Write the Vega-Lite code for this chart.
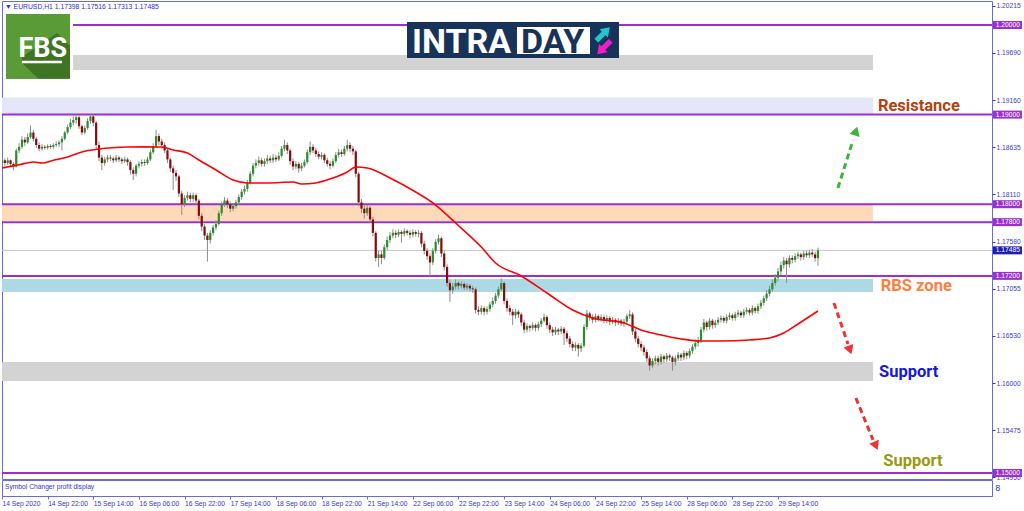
{
"$schema":"https://vega.github.io/schema/vega-lite/v6.json",
"padding":{"left":1,"top":0,"right":0,"bottom":0},
"background":"white",
"bounds":"flush",
"spacing":1,
"config":{"view":{"stroke":"#6B6BD6","strokeWidth":1},"text":{"font":"Liberation Sans"}},
"datasets":{
"one":[{"n":1}],
"zones":[{"zone":"top","a":24.9,"b":305.3,"lo":1.19498,"hi":1.19665},{"zone":"lav","a":0,"b":305.3,"lo":1.19007,"hi":1.1919},{"zone":"peach","a":0,"b":305.3,"lo":1.17812,"hi":1.17991},{"zone":"blue","a":0,"b":305.3,"lo":1.1702,"hi":1.17165},{"zone":"sup","a":0,"b":305.3,"lo":1.16027,"hi":1.16239}],
"levels":[{"p":1.2,"a":24.9},{"p":1.19,"a":0},{"p":1.18,"a":0},{"p":1.178,"a":0},{"p":1.172,"a":0},{"p":1.15,"a":0}],
"cur":[{"p":1.17485}],
"tags":[{"p":1.2,"k":"lvl"},{"p":1.19,"k":"lvl"},{"p":1.18,"k":"lvl"},{"p":1.178,"k":"lvl"},{"p":1.172,"k":"lvl"},{"p":1.15,"k":"lvl"},{"p":1.17485,"k":"cur"}],
"ma":[{"i":0,"v":1.18404},{"i":6,"v":1.1844},{"i":11,"v":1.18471},{"i":14,"v":1.1846},{"i":18,"v":1.1849},{"i":23,"v":1.18527},{"i":28,"v":1.18583},{"i":34,"v":1.18616},{"i":44,"v":1.18638},{"i":50,"v":1.1864},{"i":56,"v":1.18638},{"i":60,"v":1.18605},{"i":65,"v":1.18571},{"i":69,"v":1.18493},{"i":75,"v":1.18382},{"i":81,"v":1.1827},{"i":86,"v":1.18237},{"i":93,"v":1.18237},{"i":102,"v":1.18248},{"i":105,"v":1.18226},{"i":110,"v":1.18237},{"i":116,"v":1.18293},{"i":121,"v":1.1836},{"i":124,"v":1.18415},{"i":128,"v":1.18404},{"i":136,"v":1.18293},{"i":145,"v":1.18136},{"i":152,"v":1.17991},{"i":159,"v":1.1779},{"i":168,"v":1.17522},{"i":173,"v":1.17344},{"i":182,"v":1.17199},{"i":191,"v":1.17009},{"i":200,"v":1.16819},{"i":207,"v":1.1673},{"i":218,"v":1.16674},{"i":224,"v":1.16596},{"i":231,"v":1.1654},{"i":238,"v":1.16496},{"i":245,"v":1.16473},{"i":252,"v":1.16473},{"i":262,"v":1.16485},{"i":269,"v":1.16507},{"i":274,"v":1.16563},{"i":279,"v":1.16663},{"i":286,"v":1.16808}],
"arrows":[{"id":"g","dir":"up","i":293.0,"p":1.18181,"o":0},{"id":"g","dir":"up","i":298.3,"p":1.18717,"o":1},{"id":"r1","dir":"down","i":291.6,"p":1.16898,"o":0},{"id":"r1","dir":"down","i":296.5,"p":1.1644,"o":1},{"id":"r2","dir":"down","i":299.3,"p":1.15837,"o":0},{"id":"r2","dir":"down","i":305.3,"p":1.15369,"o":1}],
"heads":[{"dir":"up","i":299.3,"p":1.18817,"ang":17},{"dir":"down","i":297.2,"p":1.16373,"ang":161},{"dir":"down","i":306.3,"p":1.15302,"ang":157}],
"notes":[{"t":"Resistance","k":"res","i":307.0,"p":1.1904},{"t":"RBS zone","k":"rbs","i":308.0,"p":1.17026},{"t":"Support","k":"sup","i":307.4,"p":1.16072},{"t":"Support","k":"sup2","i":308.9,"p":1.15078}],
"icon":[{"k":"up","i":210.66,"p":1.199,"ang":45},{"k":"down","i":211.0,"p":1.19749,"ang":225}],
"candles":[
{"i":0,"o":1.1846,"h":1.1852,"l":1.1843,"c":1.1849},
{"i":1,"o":1.1849,"h":1.1851,"l":1.1843,"c":1.1846},
{"i":2,"o":1.1846,"h":1.1852,"l":1.1844,"c":1.1849},
{"i":3,"o":1.1849,"h":1.185,"l":1.1842,"c":1.1845},
{"i":4,"o":1.1845,"h":1.1847,"l":1.1838,"c":1.1842},
{"i":5,"o":1.1842,"h":1.1862,"l":1.1841,"c":1.186},
{"i":6,"o":1.186,"h":1.1868,"l":1.1857,"c":1.1864},
{"i":7,"o":1.1864,"h":1.1876,"l":1.1862,"c":1.1872},
{"i":8,"o":1.1872,"h":1.1875,"l":1.1865,"c":1.1869},
{"i":9,"o":1.1869,"h":1.1879,"l":1.1867,"c":1.1875},
{"i":10,"o":1.1875,"h":1.1888,"l":1.1873,"c":1.188},
{"i":11,"o":1.188,"h":1.1883,"l":1.187,"c":1.1873},
{"i":12,"o":1.1873,"h":1.1875,"l":1.1863,"c":1.1866},
{"i":13,"o":1.1866,"h":1.1869,"l":1.1859,"c":1.1862},
{"i":14,"o":1.1862,"h":1.1867,"l":1.186,"c":1.1864},
{"i":15,"o":1.1864,"h":1.1866,"l":1.1861,"c":1.1863},
{"i":16,"o":1.1863,"h":1.1867,"l":1.1861,"c":1.1865},
{"i":17,"o":1.1865,"h":1.1867,"l":1.1862,"c":1.1864},
{"i":18,"o":1.1864,"h":1.1868,"l":1.1862,"c":1.1866},
{"i":19,"o":1.1866,"h":1.187,"l":1.1864,"c":1.1867},
{"i":20,"o":1.1867,"h":1.1871,"l":1.1864,"c":1.1869},
{"i":21,"o":1.1869,"h":1.1876,"l":1.186,"c":1.1873},
{"i":22,"o":1.1873,"h":1.1882,"l":1.1871,"c":1.188},
{"i":23,"o":1.188,"h":1.1889,"l":1.1878,"c":1.1886},
{"i":24,"o":1.1886,"h":1.1895,"l":1.1884,"c":1.1891},
{"i":25,"o":1.1891,"h":1.1898,"l":1.1888,"c":1.1894},
{"i":26,"o":1.1894,"h":1.1901,"l":1.189,"c":1.1897},
{"i":27,"o":1.1897,"h":1.1899,"l":1.1884,"c":1.1887},
{"i":28,"o":1.1887,"h":1.1889,"l":1.1877,"c":1.188},
{"i":29,"o":1.188,"h":1.1888,"l":1.1878,"c":1.1885},
{"i":30,"o":1.1885,"h":1.1896,"l":1.1883,"c":1.1893},
{"i":31,"o":1.1893,"h":1.1901,"l":1.189,"c":1.1898},
{"i":32,"o":1.1898,"h":1.19,"l":1.1887,"c":1.1891},
{"i":33,"o":1.1891,"h":1.1893,"l":1.1862,"c":1.1866},
{"i":34,"o":1.1866,"h":1.187,"l":1.1848,"c":1.1852},
{"i":35,"o":1.1852,"h":1.1855,"l":1.1838,"c":1.1846},
{"i":36,"o":1.1846,"h":1.1853,"l":1.1843,"c":1.185},
{"i":37,"o":1.185,"h":1.1855,"l":1.1847,"c":1.1852},
{"i":38,"o":1.1852,"h":1.1855,"l":1.1848,"c":1.1851},
{"i":39,"o":1.1851,"h":1.1853,"l":1.1846,"c":1.1849},
{"i":40,"o":1.1849,"h":1.1855,"l":1.1847,"c":1.1852},
{"i":41,"o":1.1852,"h":1.1854,"l":1.1847,"c":1.185},
{"i":42,"o":1.185,"h":1.1852,"l":1.1845,"c":1.1848},
{"i":43,"o":1.1848,"h":1.1853,"l":1.1846,"c":1.185},
{"i":44,"o":1.185,"h":1.1852,"l":1.1843,"c":1.1847},
{"i":45,"o":1.1847,"h":1.1849,"l":1.1833,"c":1.1838},
{"i":46,"o":1.1838,"h":1.1841,"l":1.1827,"c":1.1834},
{"i":47,"o":1.1834,"h":1.1845,"l":1.1831,"c":1.1843},
{"i":48,"o":1.1843,"h":1.1848,"l":1.184,"c":1.1845},
{"i":49,"o":1.1845,"h":1.185,"l":1.1842,"c":1.1847},
{"i":50,"o":1.1847,"h":1.185,"l":1.1843,"c":1.1846},
{"i":51,"o":1.1846,"h":1.1853,"l":1.1844,"c":1.185},
{"i":52,"o":1.185,"h":1.1861,"l":1.1848,"c":1.1858},
{"i":53,"o":1.1858,"h":1.1868,"l":1.1856,"c":1.1865},
{"i":54,"o":1.1865,"h":1.1883,"l":1.1863,"c":1.1876},
{"i":55,"o":1.1876,"h":1.1879,"l":1.1866,"c":1.187},
{"i":56,"o":1.187,"h":1.1873,"l":1.1862,"c":1.1866},
{"i":57,"o":1.1866,"h":1.1869,"l":1.1857,"c":1.186},
{"i":58,"o":1.186,"h":1.1862,"l":1.1846,"c":1.185},
{"i":59,"o":1.185,"h":1.1852,"l":1.1836,"c":1.184},
{"i":60,"o":1.184,"h":1.1843,"l":1.1816,"c":1.1835},
{"i":61,"o":1.1835,"h":1.1838,"l":1.1826,"c":1.1831},
{"i":62,"o":1.1831,"h":1.1833,"l":1.1808,"c":1.1812},
{"i":63,"o":1.1812,"h":1.1815,"l":1.1788,"c":1.18},
{"i":64,"o":1.18,"h":1.181,"l":1.1797,"c":1.1807},
{"i":65,"o":1.1807,"h":1.1814,"l":1.1804,"c":1.181},
{"i":66,"o":1.181,"h":1.1813,"l":1.1802,"c":1.1806},
{"i":67,"o":1.1806,"h":1.1813,"l":1.1803,"c":1.181},
{"i":68,"o":1.181,"h":1.1812,"l":1.18,"c":1.1804},
{"i":69,"o":1.1804,"h":1.1806,"l":1.1783,"c":1.1787},
{"i":70,"o":1.1787,"h":1.179,"l":1.177,"c":1.1775},
{"i":71,"o":1.1775,"h":1.1778,"l":1.176,"c":1.1765},
{"i":72,"o":1.1765,"h":1.1768,"l":1.1736,"c":1.176},
{"i":73,"o":1.176,"h":1.1771,"l":1.1756,"c":1.1768},
{"i":74,"o":1.1768,"h":1.1777,"l":1.1765,"c":1.1774},
{"i":75,"o":1.1774,"h":1.1782,"l":1.1771,"c":1.1778},
{"i":76,"o":1.1778,"h":1.1793,"l":1.1776,"c":1.179},
{"i":77,"o":1.179,"h":1.1803,"l":1.1787,"c":1.18},
{"i":78,"o":1.18,"h":1.1808,"l":1.1797,"c":1.1804},
{"i":79,"o":1.1804,"h":1.1807,"l":1.1796,"c":1.18},
{"i":80,"o":1.18,"h":1.1803,"l":1.1791,"c":1.1795},
{"i":81,"o":1.1795,"h":1.1801,"l":1.1792,"c":1.1798},
{"i":82,"o":1.1798,"h":1.1805,"l":1.1795,"c":1.1802},
{"i":83,"o":1.1802,"h":1.1811,"l":1.1799,"c":1.1808},
{"i":84,"o":1.1808,"h":1.1817,"l":1.1805,"c":1.1814},
{"i":85,"o":1.1814,"h":1.1821,"l":1.1811,"c":1.1817},
{"i":86,"o":1.1817,"h":1.1827,"l":1.1814,"c":1.1824},
{"i":87,"o":1.1824,"h":1.1837,"l":1.1822,"c":1.1834},
{"i":88,"o":1.1834,"h":1.1846,"l":1.1831,"c":1.1843},
{"i":89,"o":1.1843,"h":1.185,"l":1.184,"c":1.1846},
{"i":90,"o":1.1846,"h":1.1853,"l":1.1843,"c":1.1849},
{"i":91,"o":1.1849,"h":1.1852,"l":1.1842,"c":1.1845},
{"i":92,"o":1.1845,"h":1.1851,"l":1.1842,"c":1.1848},
{"i":93,"o":1.1848,"h":1.1855,"l":1.1845,"c":1.1851},
{"i":94,"o":1.1851,"h":1.1854,"l":1.1846,"c":1.1849},
{"i":95,"o":1.1849,"h":1.1856,"l":1.1846,"c":1.1852},
{"i":96,"o":1.1852,"h":1.1855,"l":1.1847,"c":1.185},
{"i":97,"o":1.185,"h":1.1858,"l":1.1848,"c":1.1854},
{"i":98,"o":1.1854,"h":1.1865,"l":1.1852,"c":1.1862},
{"i":99,"o":1.1862,"h":1.1872,"l":1.1859,"c":1.1866},
{"i":100,"o":1.1866,"h":1.1869,"l":1.1856,"c":1.186},
{"i":101,"o":1.186,"h":1.1862,"l":1.1844,"c":1.1848},
{"i":102,"o":1.1848,"h":1.1851,"l":1.1838,"c":1.1842},
{"i":103,"o":1.1842,"h":1.1848,"l":1.1839,"c":1.1845},
{"i":104,"o":1.1845,"h":1.1847,"l":1.1835,"c":1.184},
{"i":105,"o":1.184,"h":1.1846,"l":1.1837,"c":1.1843},
{"i":106,"o":1.1843,"h":1.185,"l":1.1841,"c":1.1847},
{"i":107,"o":1.1847,"h":1.1861,"l":1.1845,"c":1.1858},
{"i":108,"o":1.1858,"h":1.187,"l":1.1855,"c":1.1864},
{"i":109,"o":1.1864,"h":1.1867,"l":1.1857,"c":1.186},
{"i":110,"o":1.186,"h":1.1863,"l":1.1853,"c":1.1856},
{"i":111,"o":1.1856,"h":1.1859,"l":1.185,"c":1.1853},
{"i":112,"o":1.1853,"h":1.1858,"l":1.185,"c":1.1855},
{"i":113,"o":1.1855,"h":1.1857,"l":1.1846,"c":1.1849},
{"i":114,"o":1.1849,"h":1.1852,"l":1.1842,"c":1.1845},
{"i":115,"o":1.1845,"h":1.1848,"l":1.1839,"c":1.1843},
{"i":116,"o":1.1843,"h":1.1851,"l":1.1841,"c":1.1848},
{"i":117,"o":1.1848,"h":1.1858,"l":1.1846,"c":1.1855},
{"i":118,"o":1.1855,"h":1.1862,"l":1.1852,"c":1.1858},
{"i":119,"o":1.1858,"h":1.1861,"l":1.1853,"c":1.1856},
{"i":120,"o":1.1856,"h":1.1865,"l":1.1854,"c":1.1862},
{"i":121,"o":1.1862,"h":1.1872,"l":1.1859,"c":1.1866},
{"i":122,"o":1.1866,"h":1.1869,"l":1.1858,"c":1.1862},
{"i":123,"o":1.1862,"h":1.1865,"l":1.1855,"c":1.1859},
{"i":124,"o":1.1859,"h":1.1861,"l":1.183,"c":1.1834},
{"i":125,"o":1.1834,"h":1.1836,"l":1.1798,"c":1.1802},
{"i":126,"o":1.1802,"h":1.1806,"l":1.179,"c":1.1795},
{"i":127,"o":1.1795,"h":1.1799,"l":1.1784,"c":1.179},
{"i":128,"o":1.179,"h":1.1799,"l":1.1787,"c":1.1796},
{"i":129,"o":1.1796,"h":1.1798,"l":1.1779,"c":1.1783},
{"i":130,"o":1.1783,"h":1.1786,"l":1.1764,"c":1.1768},
{"i":131,"o":1.1768,"h":1.177,"l":1.1736,"c":1.174},
{"i":132,"o":1.174,"h":1.1748,"l":1.173,"c":1.1744},
{"i":133,"o":1.1744,"h":1.1748,"l":1.1733,"c":1.174},
{"i":134,"o":1.174,"h":1.1755,"l":1.1738,"c":1.1752},
{"i":135,"o":1.1752,"h":1.1764,"l":1.1749,"c":1.176},
{"i":136,"o":1.176,"h":1.1769,"l":1.1757,"c":1.1765},
{"i":137,"o":1.1765,"h":1.1772,"l":1.1762,"c":1.1768},
{"i":138,"o":1.1768,"h":1.1771,"l":1.1762,"c":1.1766},
{"i":139,"o":1.1766,"h":1.1772,"l":1.1763,"c":1.1769},
{"i":140,"o":1.1769,"h":1.1771,"l":1.1757,"c":1.1767},
{"i":141,"o":1.1767,"h":1.1773,"l":1.1764,"c":1.177},
{"i":142,"o":1.177,"h":1.1772,"l":1.1765,"c":1.1768},
{"i":143,"o":1.1768,"h":1.1771,"l":1.1762,"c":1.1766},
{"i":144,"o":1.1766,"h":1.1772,"l":1.1763,"c":1.1769},
{"i":145,"o":1.1769,"h":1.1771,"l":1.1764,"c":1.1767},
{"i":146,"o":1.1767,"h":1.1771,"l":1.1763,"c":1.1768},
{"i":147,"o":1.1768,"h":1.177,"l":1.1752,"c":1.1756},
{"i":148,"o":1.1756,"h":1.1759,"l":1.1744,"c":1.1748},
{"i":149,"o":1.1748,"h":1.1751,"l":1.1738,"c":1.1742},
{"i":150,"o":1.1742,"h":1.1745,"l":1.172,"c":1.1735},
{"i":151,"o":1.1735,"h":1.1751,"l":1.1732,"c":1.1748},
{"i":152,"o":1.1748,"h":1.1761,"l":1.1745,"c":1.1758},
{"i":153,"o":1.1758,"h":1.1766,"l":1.1755,"c":1.1762},
{"i":154,"o":1.1762,"h":1.1764,"l":1.1741,"c":1.1745},
{"i":155,"o":1.1745,"h":1.1748,"l":1.1726,"c":1.173},
{"i":156,"o":1.173,"h":1.1733,"l":1.1708,"c":1.1712},
{"i":157,"o":1.1712,"h":1.1715,"l":1.1691,"c":1.1704},
{"i":158,"o":1.1704,"h":1.1712,"l":1.17,"c":1.1708},
{"i":159,"o":1.1708,"h":1.1716,"l":1.1705,"c":1.1712},
{"i":160,"o":1.1712,"h":1.1714,"l":1.1705,"c":1.1709},
{"i":161,"o":1.1709,"h":1.1714,"l":1.1706,"c":1.1711},
{"i":162,"o":1.1711,"h":1.1713,"l":1.1704,"c":1.1707},
{"i":163,"o":1.1707,"h":1.1712,"l":1.1704,"c":1.1709},
{"i":164,"o":1.1709,"h":1.1711,"l":1.1703,"c":1.1706},
{"i":165,"o":1.1706,"h":1.1709,"l":1.1701,"c":1.1705},
{"i":166,"o":1.1705,"h":1.1707,"l":1.1678,"c":1.1682},
{"i":167,"o":1.1682,"h":1.1686,"l":1.1676,"c":1.168},
{"i":168,"o":1.168,"h":1.1687,"l":1.1677,"c":1.1684},
{"i":169,"o":1.1684,"h":1.1686,"l":1.1676,"c":1.168},
{"i":170,"o":1.168,"h":1.1686,"l":1.1677,"c":1.1683},
{"i":171,"o":1.1683,"h":1.1691,"l":1.168,"c":1.1688},
{"i":172,"o":1.1688,"h":1.1696,"l":1.1685,"c":1.1692},
{"i":173,"o":1.1692,"h":1.1701,"l":1.1689,"c":1.1698},
{"i":174,"o":1.1698,"h":1.1708,"l":1.1695,"c":1.1705},
{"i":175,"o":1.1705,"h":1.1717,"l":1.1703,"c":1.1712},
{"i":176,"o":1.1712,"h":1.1714,"l":1.1688,"c":1.1692},
{"i":177,"o":1.1692,"h":1.1695,"l":1.168,"c":1.1684},
{"i":178,"o":1.1684,"h":1.1687,"l":1.1676,"c":1.168},
{"i":179,"o":1.168,"h":1.1683,"l":1.1665,"c":1.1676},
{"i":180,"o":1.1676,"h":1.1683,"l":1.1672,"c":1.168},
{"i":181,"o":1.168,"h":1.1682,"l":1.1673,"c":1.1677},
{"i":182,"o":1.1677,"h":1.1679,"l":1.1664,"c":1.1668},
{"i":183,"o":1.1668,"h":1.1671,"l":1.1656,"c":1.166},
{"i":184,"o":1.166,"h":1.1667,"l":1.1657,"c":1.1664},
{"i":185,"o":1.1664,"h":1.1666,"l":1.1658,"c":1.1662},
{"i":186,"o":1.1662,"h":1.1668,"l":1.1659,"c":1.1665},
{"i":187,"o":1.1665,"h":1.1667,"l":1.1658,"c":1.1662},
{"i":188,"o":1.1662,"h":1.1669,"l":1.1659,"c":1.1666},
{"i":189,"o":1.1666,"h":1.1673,"l":1.1663,"c":1.167},
{"i":190,"o":1.167,"h":1.1678,"l":1.1668,"c":1.1674},
{"i":191,"o":1.1674,"h":1.1676,"l":1.1661,"c":1.1665},
{"i":192,"o":1.1665,"h":1.1668,"l":1.1656,"c":1.166},
{"i":193,"o":1.166,"h":1.1663,"l":1.1653,"c":1.1657},
{"i":194,"o":1.1657,"h":1.1663,"l":1.1654,"c":1.166},
{"i":195,"o":1.166,"h":1.1662,"l":1.1654,"c":1.1658},
{"i":196,"o":1.1658,"h":1.1664,"l":1.1655,"c":1.1661},
{"i":197,"o":1.1661,"h":1.1663,"l":1.1643,"c":1.1656},
{"i":198,"o":1.1656,"h":1.1659,"l":1.1646,"c":1.165},
{"i":199,"o":1.165,"h":1.1653,"l":1.164,"c":1.1644},
{"i":200,"o":1.1644,"h":1.1647,"l":1.1636,"c":1.164},
{"i":201,"o":1.164,"h":1.1646,"l":1.1636,"c":1.1643},
{"i":202,"o":1.1643,"h":1.1645,"l":1.163,"c":1.1639},
{"i":203,"o":1.1639,"h":1.1645,"l":1.1635,"c":1.1642},
{"i":204,"o":1.1642,"h":1.1666,"l":1.164,"c":1.1663},
{"i":205,"o":1.1663,"h":1.1682,"l":1.166,"c":1.1678},
{"i":206,"o":1.1678,"h":1.168,"l":1.167,"c":1.1674},
{"i":207,"o":1.1674,"h":1.1677,"l":1.1667,"c":1.1671},
{"i":208,"o":1.1671,"h":1.1678,"l":1.1668,"c":1.1675},
{"i":209,"o":1.1675,"h":1.1677,"l":1.1669,"c":1.1672},
{"i":210,"o":1.1672,"h":1.1677,"l":1.1669,"c":1.1674},
{"i":211,"o":1.1674,"h":1.1676,"l":1.1667,"c":1.167},
{"i":212,"o":1.167,"h":1.1676,"l":1.1667,"c":1.1673},
{"i":213,"o":1.1673,"h":1.1675,"l":1.1665,"c":1.1669},
{"i":214,"o":1.1669,"h":1.1674,"l":1.1666,"c":1.1671},
{"i":215,"o":1.1671,"h":1.1673,"l":1.1664,"c":1.1668},
{"i":216,"o":1.1668,"h":1.1673,"l":1.1665,"c":1.167},
{"i":217,"o":1.167,"h":1.1672,"l":1.1664,"c":1.1667},
{"i":218,"o":1.1667,"h":1.1672,"l":1.1663,"c":1.1669},
{"i":219,"o":1.1669,"h":1.1678,"l":1.1666,"c":1.1675},
{"i":220,"o":1.1675,"h":1.1682,"l":1.1672,"c":1.1677},
{"i":221,"o":1.1677,"h":1.1679,"l":1.1654,"c":1.1658},
{"i":222,"o":1.1658,"h":1.1661,"l":1.1646,"c":1.165},
{"i":223,"o":1.165,"h":1.1653,"l":1.164,"c":1.1644},
{"i":224,"o":1.1644,"h":1.1647,"l":1.1636,"c":1.164},
{"i":225,"o":1.164,"h":1.1643,"l":1.1631,"c":1.1635},
{"i":226,"o":1.1635,"h":1.1638,"l":1.1624,"c":1.1628},
{"i":227,"o":1.1628,"h":1.1631,"l":1.1614,"c":1.162},
{"i":228,"o":1.162,"h":1.1628,"l":1.1617,"c":1.1625},
{"i":229,"o":1.1625,"h":1.1631,"l":1.1621,"c":1.1628},
{"i":230,"o":1.1628,"h":1.1631,"l":1.162,"c":1.1624},
{"i":231,"o":1.1624,"h":1.1633,"l":1.1621,"c":1.163},
{"i":232,"o":1.163,"h":1.1632,"l":1.1623,"c":1.1627},
{"i":233,"o":1.1627,"h":1.1634,"l":1.1624,"c":1.1631},
{"i":234,"o":1.1631,"h":1.1633,"l":1.1625,"c":1.1629},
{"i":235,"o":1.1629,"h":1.1631,"l":1.1614,"c":1.1624},
{"i":236,"o":1.1624,"h":1.1631,"l":1.162,"c":1.1628},
{"i":237,"o":1.1628,"h":1.1635,"l":1.1625,"c":1.1632},
{"i":238,"o":1.1632,"h":1.1634,"l":1.1625,"c":1.1629},
{"i":239,"o":1.1629,"h":1.1637,"l":1.1626,"c":1.1634},
{"i":240,"o":1.1634,"h":1.1636,"l":1.1627,"c":1.1631},
{"i":241,"o":1.1631,"h":1.1639,"l":1.1628,"c":1.1636},
{"i":242,"o":1.1636,"h":1.1644,"l":1.1633,"c":1.1641},
{"i":243,"o":1.1641,"h":1.1649,"l":1.1638,"c":1.1645},
{"i":244,"o":1.1645,"h":1.1652,"l":1.1641,"c":1.1648},
{"i":245,"o":1.1648,"h":1.1663,"l":1.1645,"c":1.166},
{"i":246,"o":1.166,"h":1.1672,"l":1.1657,"c":1.1668},
{"i":247,"o":1.1668,"h":1.167,"l":1.1659,"c":1.1663},
{"i":248,"o":1.1663,"h":1.1673,"l":1.166,"c":1.167},
{"i":249,"o":1.167,"h":1.1672,"l":1.1661,"c":1.1665},
{"i":250,"o":1.1665,"h":1.1671,"l":1.1662,"c":1.1668},
{"i":251,"o":1.1668,"h":1.1674,"l":1.1665,"c":1.1671},
{"i":252,"o":1.1671,"h":1.1676,"l":1.1668,"c":1.1673},
{"i":253,"o":1.1673,"h":1.1675,"l":1.1667,"c":1.167},
{"i":254,"o":1.167,"h":1.1677,"l":1.1667,"c":1.1674},
{"i":255,"o":1.1674,"h":1.1679,"l":1.1671,"c":1.1676},
{"i":256,"o":1.1676,"h":1.1678,"l":1.167,"c":1.1673},
{"i":257,"o":1.1673,"h":1.168,"l":1.167,"c":1.1677},
{"i":258,"o":1.1677,"h":1.1682,"l":1.1674,"c":1.1679},
{"i":259,"o":1.1679,"h":1.1681,"l":1.1673,"c":1.1676},
{"i":260,"o":1.1676,"h":1.1683,"l":1.1673,"c":1.168},
{"i":261,"o":1.168,"h":1.1685,"l":1.1677,"c":1.1682},
{"i":262,"o":1.1682,"h":1.1684,"l":1.1676,"c":1.1679},
{"i":263,"o":1.1679,"h":1.1687,"l":1.1676,"c":1.1684},
{"i":264,"o":1.1684,"h":1.1686,"l":1.1678,"c":1.1681},
{"i":265,"o":1.1681,"h":1.1689,"l":1.1678,"c":1.1686},
{"i":266,"o":1.1686,"h":1.1693,"l":1.1683,"c":1.169},
{"i":267,"o":1.169,"h":1.1698,"l":1.1687,"c":1.1695},
{"i":268,"o":1.1695,"h":1.1704,"l":1.1692,"c":1.17},
{"i":269,"o":1.17,"h":1.1709,"l":1.1697,"c":1.1705},
{"i":270,"o":1.1705,"h":1.1716,"l":1.1702,"c":1.1712},
{"i":271,"o":1.1712,"h":1.1722,"l":1.1709,"c":1.1718},
{"i":272,"o":1.1718,"h":1.1729,"l":1.1714,"c":1.1725},
{"i":273,"o":1.1725,"h":1.1736,"l":1.1721,"c":1.1732},
{"i":274,"o":1.1732,"h":1.1741,"l":1.1728,"c":1.1737},
{"i":275,"o":1.1737,"h":1.174,"l":1.1712,"c":1.1733},
{"i":276,"o":1.1733,"h":1.1743,"l":1.1729,"c":1.174},
{"i":277,"o":1.174,"h":1.1743,"l":1.1734,"c":1.1738},
{"i":278,"o":1.1738,"h":1.1745,"l":1.1735,"c":1.1742},
{"i":279,"o":1.1742,"h":1.1747,"l":1.1739,"c":1.1744},
{"i":280,"o":1.1744,"h":1.1746,"l":1.1737,"c":1.1741},
{"i":281,"o":1.1741,"h":1.1748,"l":1.1738,"c":1.1745},
{"i":282,"o":1.1745,"h":1.1748,"l":1.174,"c":1.1743},
{"i":283,"o":1.1743,"h":1.1749,"l":1.174,"c":1.1746},
{"i":284,"o":1.1746,"h":1.175,"l":1.1741,"c":1.1744},
{"i":285,"o":1.1744,"h":1.1747,"l":1.1736,"c":1.17398},
{"i":286,"o":1.17398,"h":1.17516,"l":1.17313,"c":1.17485}
]
},
"vconcat":[
{"width":990,"height":478,
"resolve":{"scale":{"color":"independent"}},
"layer":[
{"data":{"name":"zones"},"mark":{"type":"rect","clip":true},
"encoding":{"x":{"field":"a","type":"quantitative","scale":{"domain":[0,347],"nice":false,"zero":false},"axis":null},"x2":{"field":"b"},
"y":{"field":"lo","type":"quantitative","scale":{"domain":[1.14933,1.20268],"nice":false,"zero":false},
"axis":{"orient":"right","title":null,"values":[1.20215,1.1995,1.1969,1.19425,1.1916,1.189,1.18635,1.1837,1.1811,1.17845,1.1758,1.1732,1.17055,1.1679,1.1653,1.16265,1.16,1.1574,1.15475,1.1521,1.1495],"format":".5f","labelFont":"Liberation Sans","labelFontSize":6.7,"labelColor":"#3A3AC8","tickColor":"#3A3AC8","tickSize":3,"domain":false,"grid":false,"labelPadding":1,"labelOverlap":false,"labelFlush":false,"labelBound":false}},
"y2":{"field":"hi"},
"fill":{"field":"zone","type":"nominal","scale":{"domain":["top","lav","peach","blue","sup"],"range":["#D3D3D3","#E6E6FA","#FFDAB9","#ADD8E6","#D3D3D3"]},"legend":null}}},
{"data":{"name":"cur"},"mark":{"type":"rule","color":"#C4C4C4","strokeWidth":1,"clip":true},
"encoding":{"x":{"datum":0,"type":"quantitative","axis":null},"x2":{"datum":347},"y":{"field":"p","type":"quantitative","title":null}}},
{"data":{"name":"levels"},"mark":{"type":"rule","color":"#9B30D0","strokeWidth":2,"clip":true},
"encoding":{"x":{"field":"a","type":"quantitative","axis":null},"x2":{"datum":347},"y":{"field":"p","type":"quantitative","title":null}}},
{"data":{"name":"candles"},"mark":{"type":"rule","color":"#8C8C8C","strokeWidth":1,"clip":true},
"encoding":{"x":{"field":"i","type":"quantitative","axis":null},"y":{"field":"l","type":"quantitative","title":null},"y2":{"field":"h"}}},
{"data":{"name":"candles"},"mark":{"type":"rule","strokeWidth":2.2,"strokeCap":"butt","clip":true},
"encoding":{"x":{"field":"i","type":"quantitative","axis":null},"y":{"field":"o","type":"quantitative","title":null},"y2":{"field":"c"},
"color":{"condition":{"test":"datum.c >= datum.o","value":"#2A8C2A"},"value":"#870A0A"}}},
{"data":{"name":"ma"},"mark":{"type":"line","color":"#FF0000","strokeWidth":1.6,"interpolate":"monotone","clip":true},
"encoding":{"x":{"field":"i","type":"quantitative","axis":null},"y":{"field":"v","type":"quantitative","title":null}}},
{"data":{"name":"arrows"},"mark":{"type":"line","strokeWidth":3,"strokeDash":[6,4],"clip":true},
"encoding":{"x":{"field":"i","type":"quantitative","axis":null},"y":{"field":"p","type":"quantitative","title":null},"detail":{"field":"id"},"order":{"field":"o"},
"color":{"field":"dir","type":"nominal","scale":{"domain":["up","down"],"range":["#3DB33D","#F03232"]},"legend":null}}},
{"data":{"name":"heads"},"mark":{"type":"point","shape":"triangle-up","filled":true,"size":110,"opacity":1,"clip":true},
"encoding":{"x":{"field":"i","type":"quantitative","axis":null},"y":{"field":"p","type":"quantitative","title":null},"angle":{"field":"ang","type":"quantitative","scale":null},
"color":{"field":"dir","type":"nominal","scale":{"domain":["up","down"],"range":["#3DB33D","#F03232"]},"legend":null}}},
{"data":{"name":"notes"},"mark":{"type":"text","font":"Roboto","fontWeight":"bold","fontSize":16.5,"align":"left","baseline":"alphabetic","clip":true},
"encoding":{"x":{"field":"i","type":"quantitative","axis":null},"y":{"field":"p","type":"quantitative","title":null},"text":{"field":"t"},
"color":{"field":"k","type":"nominal","scale":{"domain":["res","rbs","sup","sup2"],"range":["#B5410F","#FF7F3F","#1616E0","#999910"]},"legend":null}}},
{"data":{"name":"one"},"mark":{"type":"rect","color":"#5B9B37","clip":true},
"encoding":{"x":{"datum":1.4,"type":"quantitative","axis":null},"x2":{"datum":23.83},"y":{"datum":1.20123,"type":"quantitative","title":null},"y2":{"datum":1.19397}}},
{"data":{"name":"one"},"mark":{"type":"point","filled":true,"opacity":1,"color":"#3F7424","size":4096,"clip":true,"shape":"M-0.5,0.33L0.594,-0.42L1,-0.016L1,1L0,1L-0.5,0.516Z"},
"encoding":{"x":{"datum":12.62,"type":"quantitative","axis":null},"y":{"datum":1.1976,"type":"quantitative","title":null}}},
{"data":{"name":"one"},"mark":{"type":"text","text":"FBS","font":"Roboto","fontWeight":"bold","fontSize":27,"color":"white","align":"left","baseline":"alphabetic","clip":true},
"encoding":{"x":{"datum":5.8,"type":"quantitative","axis":null},"y":{"datum":1.19643,"type":"quantitative","title":null}}},
{"data":{"name":"one"},"mark":{"type":"rule","color":"white","strokeWidth":2.5,"clip":true},
"encoding":{"x":{"datum":7.0,"type":"quantitative","axis":null},"x2":{"datum":21.0},"y":{"datum":1.19587,"type":"quantitative","title":null}}},
{"data":{"name":"one"},"mark":{"type":"rect","color":"#183359","clip":true},
"encoding":{"x":{"datum":141.96,"type":"quantitative","axis":null},"x2":{"datum":216.26},"y":{"datum":1.20034,"type":"quantitative","title":null},"y2":{"datum":1.19632}}},
{"data":{"name":"one"},"mark":{"type":"rect","color":"white","clip":true},
"encoding":{"x":{"datum":180.5,"type":"quantitative","axis":null},"x2":{"datum":206.1},"y":{"datum":1.19978,"type":"quantitative","title":null},"y2":{"datum":1.19676}}},
{"data":{"name":"one"},"mark":{"type":"text","text":"INTRA","font":"Roboto","fontWeight":"bold","fontSize":34,"color":"white","align":"left","baseline":"alphabetic","clip":true},
"encoding":{"x":{"datum":143.7,"type":"quantitative","axis":null},"y":{"datum":1.19693,"type":"quantitative","title":null}}},
{"data":{"name":"one"},"mark":{"type":"text","text":"DAY","font":"Roboto","fontWeight":"bold","fontSize":34,"color":"#183359","align":"left","baseline":"alphabetic","clip":true},
"encoding":{"x":{"datum":181.9,"type":"quantitative","axis":null},"y":{"datum":1.19693,"type":"quantitative","title":null}}},
{"data":{"name":"icon"},"mark":{"type":"point","filled":true,"opacity":1,"size":360,"clip":true,"shape":"M-0.28,1L-0.28,-0.1L-0.62,-0.1L0,-1L0.62,-0.1L0.28,-0.1L0.28,1Z"},
"encoding":{"x":{"field":"i","type":"quantitative","axis":null},"y":{"field":"p","type":"quantitative","title":null},"angle":{"field":"ang","type":"quantitative","scale":null},
"color":{"field":"k","type":"nominal","scale":{"domain":["up","down"],"range":["#1EC8C8","#F01EC8"]},"legend":null}}},
{"data":{"name":"one"},"mark":{"type":"text","text":"▼  EURUSD,H1  1.17398 1.17516 1.17313 1.17485","font":"Liberation Sans","fontSize":6.8,"color":"#3030C0","align":"left","baseline":"middle","clip":true},
"encoding":{"x":{"datum":1.05,"type":"quantitative","axis":null},"y":{"datum":1.20204,"type":"quantitative","title":null}}},
{"data":{"name":"tags"},"mark":{"type":"rule","strokeWidth":8,"strokeCap":"butt"},
"encoding":{"x":{"datum":347.35,"type":"quantitative","axis":null},"x2":{"datum":357.5},"y":{"field":"p","type":"quantitative","title":null},
"color":{"field":"k","type":"nominal","scale":{"domain":["lvl","cur"],"range":["#9B30D0","#1E1EB4"]},"legend":null}}},
{"data":{"name":"tags"},"mark":{"type":"text","font":"Liberation Sans","fontSize":6.7,"color":"white","align":"left","baseline":"middle"},
"encoding":{"x":{"datum":348.3,"type":"quantitative","axis":null},"y":{"field":"p","type":"quantitative","title":null},"text":{"field":"p","type":"quantitative","format":".5f"}}}
]},
{"width":990,"height":16,
"data":{"name":"one"},
"layer":[
{"mark":{"type":"text","text":"Symbol Changer profit display","font":"Liberation Sans","fontSize":6.7,"color":"#3535C8","align":"left","baseline":"middle"},
"encoding":{"x":{"datum":1.05,"type":"quantitative","scale":{"domain":[0,347],"nice":false,"zero":false},
"axis":{"title":null,"values":[0,16,32,48,64,80,96,112,128,144,160,176,192,208,224,240,256,272],"labelExpr":"['14 Sep 2020','14 Sep 22:00','15 Sep 14:00','16 Sep 06:00','16 Sep 22:00','17 Sep 14:00','18 Sep 06:00','18 Sep 22:00','21 Sep 14:00','22 Sep 06:00','22 Sep 22:00','23 Sep 14:00','24 Sep 06:00','24 Sep 22:00','25 Sep 14:00','28 Sep 06:00','28 Sep 22:00','29 Sep 14:00'][datum.value/16]","labelAlign":"left","labelFlush":false,"labelOverlap":false,"labelBound":false,"labelFont":"Liberation Sans","labelFontSize":6.7,"labelColor":"#3535C8","tickColor":"#6B6BD6","tickSize":3,"domainColor":"#6B6BD6","labelPadding":1,"grid":false}},
"y":{"datum":0.56,"type":"quantitative","scale":{"domain":[0,1]},"axis":null}}},
{"mark":{"type":"text","text":"8","font":"Liberation Sans","fontSize":9,"color":"#3535C8","align":"left","baseline":"middle"},
"encoding":{"x":{"datum":348.1,"type":"quantitative"},"y":{"datum":0.5,"type":"quantitative"}}}
]}
]
}
